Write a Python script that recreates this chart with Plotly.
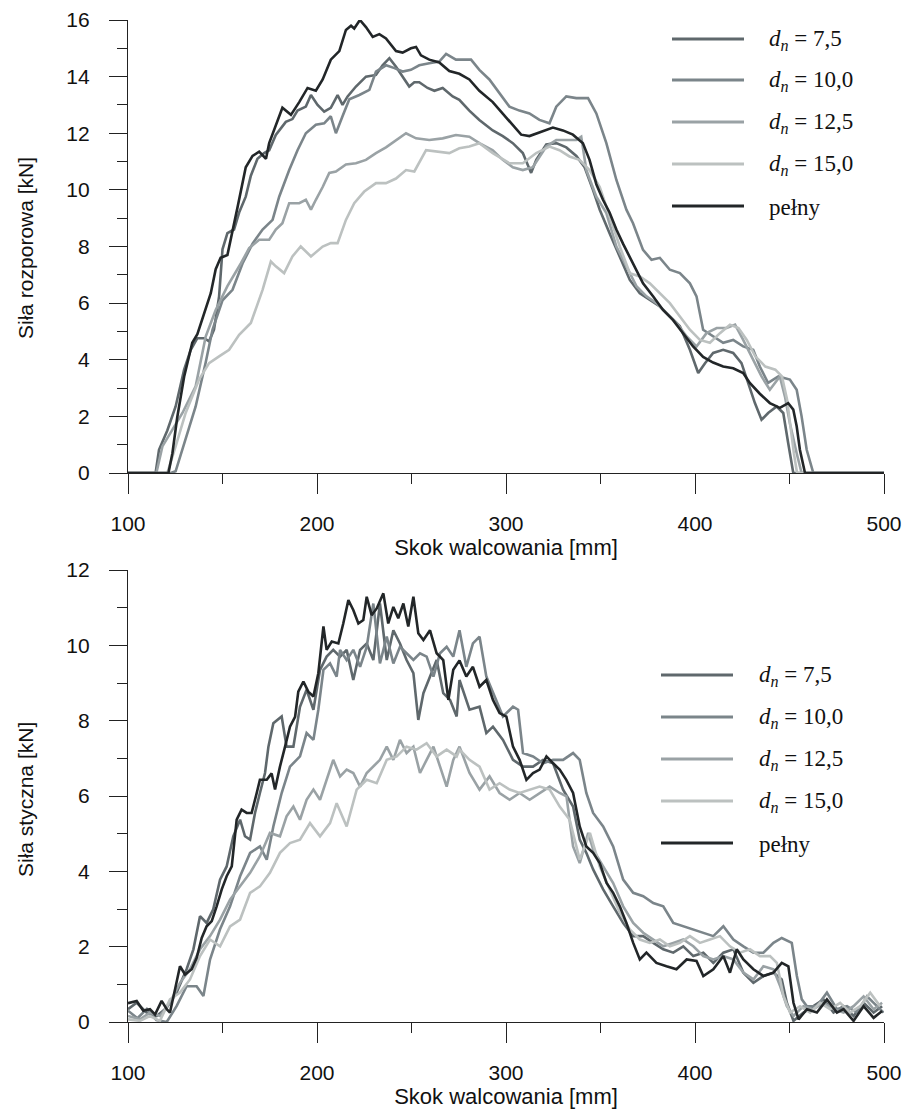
import plotly.graph_objects as go

# ---------------- data: top chart (Siła rozporowa) ----------------
top_pelny_x = [100, 121.4, 123.5, 126, 129.7, 132.3, 134, 136.7, 141, 143.8,
               146.4, 149, 152.6, 155.3, 158, 162.3, 165.9, 169.4, 173, 174.7,
               178.2, 181.7, 186.2, 190.6, 195, 199.4, 203, 207.3, 211.8, 215.3,
               218, 219.7, 222.7, 225.9, 229.5, 233, 236.5, 241.8, 245.3, 249.7,
               252.4, 255, 259.4, 264.7, 270, 275.3, 280.6, 285.9, 293, 298.3,
               303.6, 308, 312.4, 318.6, 324.8, 330.1, 335.4, 340.7, 344.2, 347.8,
               351.3, 354.8, 358.4, 361.9, 367.2, 372.5, 377.8, 383.1, 388.4, 393.7,
               399, 404.3, 409.6, 414.9, 420.2, 425.5, 429, 434.3, 439.6, 444.9,
               449.3, 452, 453.8, 455.5, 458.2, 500]
top_pelny_y = [0, 0, 0.7, 1.94, 3.4, 4.1, 4.6, 4.9, 5.8, 6.35,
               7.2, 7.6, 7.7, 8.5, 9.4, 10.8, 11.2, 11.35, 11.1, 11.65,
               12.3, 12.9, 12.65, 13.1, 13.6, 13.5, 13.9, 14.6, 14.9, 15.65,
               15.8, 15.7, 16.0, 15.75, 15.4, 15.5, 15.35, 14.9, 14.85, 15.0,
               15.05, 14.75, 14.6, 14.5, 14.2, 14.1, 13.9, 13.5, 13.1, 12.7,
               12.3, 11.95, 11.9, 12.06, 12.2, 12.1, 11.95, 11.65, 11.06, 10.2,
               9.65, 9.2, 8.6, 8.1, 7.4, 6.7, 6.24, 5.76, 5.4, 4.94,
               4.47, 4.1, 3.9, 3.76, 3.7, 3.53, 3.18, 2.8, 2.47, 2.3,
               2.47, 2.24, 1.65, 0.82, 0, 0]

top_75_x = [100, 114.6, 116.4, 120.8, 125.2, 129.7, 133.2, 136.7, 140.3, 142.9,
            145.5, 148.2, 150, 152.6, 156.1, 158.8, 162.3, 165, 168.5, 172,
            174.7, 178.2, 183.5, 187, 189.7, 194.1, 196.8, 200.3, 203.8, 207.3,
            210.9, 213.5, 216.2, 220.6, 225.9, 231.2, 234.7, 238.3, 241.8, 245.3,
            248.8, 251.5, 254.1, 258.5, 262.1, 266.5, 271.8, 275.3, 280.6, 285.9,
            293, 298.3, 303.6, 308.9, 313.3, 316, 321.3, 326.6, 331.9, 337.2,
            341.6, 346, 349.6, 354.8, 360.2, 365.5, 370.8, 376.1, 381.4, 386.7,
            392, 397.3, 401.7, 405.3, 409.6, 414.9, 420.2, 424.6, 428.1, 431.7,
            435.2, 438.7, 443.2, 446.7, 449.3, 452, 500]
top_75_y = [0, 0, 0.82, 1.5, 2.35, 3.65, 4.35, 4.76, 4.76, 4.65,
            5.06, 6.24, 7.9, 8.47, 8.6, 9.2, 9.76, 10.5, 11.1, 11.3,
            11.4, 11.94, 12.4, 12.5, 12.8, 12.94, 13.35, 13.0, 12.76, 12.9,
            13.35, 13.0, 13.3, 13.65, 14.0, 14.06, 14.4, 14.65, 14.35, 14.0,
            13.65, 13.8, 13.8, 13.6, 13.5, 13.6, 13.3, 13.18, 12.8, 12.47,
            12.1, 11.9, 11.65, 11.3, 10.6, 11.06, 11.6, 11.65, 11.5, 11.2,
            10.8, 10.0, 9.3, 8.47, 7.65, 6.82, 6.35, 6.1, 5.88, 5.53,
            5.18, 4.35, 3.53, 3.88, 4.24, 4.35, 4.24, 3.88, 3.18, 2.47,
            1.88, 2.12, 2.35, 2.12, 1.06, 0, 0]

top_100_x = [100, 122.6, 125.2, 130.5, 135.8, 141.1, 144.7, 150, 155.3, 160.6,
             165.9, 171.2, 176.5, 180, 185.3, 189.7, 194.1, 199.4, 203.8, 207.3,
             210, 213.5, 217.1, 222.4, 227.7, 231.2, 236.5, 241, 245.3, 249.7,
             254.1, 259.4, 264.7, 268.3, 273.5, 281.5, 285.9, 291.2, 296.5, 301.8,
             307.1, 312.4, 317.7, 323, 326.6, 331.9, 337.2, 343.4, 347.8, 353.1,
             358.4, 363.7, 367.2, 372.5, 377, 381.4, 386.7, 392, 397.3, 400.8,
             404.3, 409.6, 414.9, 420.2, 425.5, 430.8, 434.3, 438.7, 444.1, 450.2,
             453.8, 456.4, 459.1, 462.6, 500]
top_100_y = [0, 0, 0.06, 1.18, 2.35, 3.9, 5.06, 6.1, 6.47, 7.4,
             8.1, 8.6, 8.94, 9.76, 10.7, 11.4, 12.0, 12.3, 12.35, 12.6,
             12.0, 12.6, 13.2, 13.35, 13.53, 14.18, 14.4, 14.3, 14.18, 14.24,
             14.4, 14.47, 14.53, 14.8, 14.6, 14.6, 14.24, 13.9, 13.4, 12.94,
             12.8, 12.7, 12.47, 12.35, 12.94, 13.3, 13.24, 13.24, 12.7, 11.65,
             10.35, 9.3, 8.82, 7.88, 7.53, 7.6, 7.18, 7.06, 6.7, 6.24,
             5.06, 4.82, 4.6, 4.7, 4.47, 4.35, 3.76, 3.18, 3.41, 3.3,
             2.94, 2.0, 0.82, 0, 0]

top_125_x = [100, 115, 118.2, 123.5, 128.8, 135.8, 141.1, 146.4, 152.6, 159.7,
             164.1, 169.4, 174.7, 178.2, 181.7, 185.3, 190.6, 194.1, 196.8, 199.4,
             203, 206.5, 210, 215.3, 220.6, 225.9, 231.2, 236.5, 241.8, 247.1,
             252.4, 259.4, 266.5, 273.5, 280.6, 285.9, 293, 298.3, 303.6, 308.9,
             314.2, 321.3, 326.6, 331.9, 337.2, 339.8, 342.5, 347.8, 353.1, 358.4,
             363.7, 369, 374.3, 379.6, 384.9, 390.2, 395.6, 400.8, 406.1, 411.5,
             416.8, 421.2, 425.5, 430.8, 435.2, 439.6, 444.9, 447.6, 450.2, 453.8,
             456.4, 500]
top_125_y = [0, 0, 0.94, 1.53, 2.12, 3.06, 4.82, 5.76, 6.6, 7.4,
             7.94, 8.24, 8.24, 8.6, 8.82, 9.53, 9.53, 9.65, 9.3, 9.65,
             10.1, 10.6, 10.65, 10.9, 10.94, 11.06, 11.3, 11.5, 11.76, 12.0,
             11.82, 11.76, 11.82, 11.94, 11.88, 11.65, 11.4, 11.06, 10.8, 10.7,
             10.8, 11.53, 11.76, 11.76, 11.76, 11.88, 10.7, 9.76, 9.18, 8.0,
             7.3, 6.6, 6.24, 6.0, 5.65, 5.3, 4.82, 4.47, 4.94, 5.12,
             5.12, 5.24, 4.7, 4.0, 3.41, 2.94, 3.41, 2.7, 1.76, 0.7,
             0, 0]

top_150_x = [100, 120.8, 125.2, 130.5, 137.6, 142.9, 148.2, 153.5, 158.8, 165,
             171.2, 175.6, 178.2, 182.6, 187, 191.4, 196.8, 203, 207.3, 210.9,
             215.3, 219.7, 225, 231.2, 236.5, 241.8, 247.1, 251.5, 257.7, 263.8,
             270, 275.3, 280.6, 285.9, 293, 301.8, 308.9, 316, 323, 328.3,
             333.6, 338.9, 344.2, 349.6, 354.8, 360.2, 365.5, 370.8, 376.1, 381.4,
             386.7, 392, 397.3, 402.6, 407.9, 413.2, 418.5, 423, 427.4, 431.9,
             437.2, 442.5, 446, 448.7, 450.5, 452.3, 454, 500]
top_150_y = [0, 0, 0.94, 2.12, 3.3, 3.88, 4.12, 4.35, 4.88, 5.3,
             6.47, 7.47, 7.3, 7.06, 7.65, 8.0, 7.65, 8.0, 8.12, 8.12,
             8.94, 9.53, 9.94, 10.24, 10.24, 10.4, 10.7, 10.65, 11.4, 11.35,
             11.3, 11.47, 11.53, 11.65, 11.3, 10.94, 10.94, 11.3, 11.53, 11.4,
             11.18, 11.06, 10.7, 10.1, 9.06, 8.0, 7.06, 6.94, 6.7, 6.35,
             6.0, 5.53, 5.06, 4.7, 4.6, 4.94, 5.24, 5.12, 4.7, 4.12,
             3.76, 3.65, 3.41, 2.6, 1.53, 0.7, 0, 0]

# ---------------- data: bottom chart (Siła styczna) ----------------
bot_pelny_x = [100, 104.6, 108.1, 111.6, 114.3, 117.8, 120.5, 122.2, 124.9, 127.5,
               130.2, 133.7, 136.3, 139, 141.6, 144.3, 146.9, 149.6, 152.2, 154.9,
               157.5, 160.1, 162.8, 165.4, 168.1, 169.8, 173.4, 176, 177.8, 180.4,
               183.1, 185.7, 188.4, 190.1, 192.8, 195.4, 198.1, 200.7, 203.4, 205.1,
               207.8, 211.3, 213.9, 216.6, 219.2, 221.9, 224.5, 226.3, 228.9, 231.6,
               235.1, 237.7, 240.4, 243, 245.7, 248.3, 251, 253.6, 256.3, 259.8,
               263.3, 266.8, 269.5, 272.1, 275.4, 279, 282.5, 286, 289.6, 293.1,
               296.6, 300.2, 303.7, 307.2, 310.8, 314.3, 317.8, 321.4, 324.9, 328.4,
               331.9, 335.5, 339, 342.5, 346.1, 349.6, 353.2, 356.7, 360.2, 363.7,
               367.3, 370.8, 374.3, 379.6, 384.9, 390.2, 395.6, 400.8, 404.4, 409.7,
               415, 418.5, 422.1, 425.6, 430.9, 436.2, 441.5, 445.9, 449.4, 452.1,
               454.8, 459.2, 464.5, 469.8, 475.1, 478.6, 483.9, 489.2, 494.5, 499]
bot_pelny_y = [0.5, 0.56, 0.3, 0.34, 0.2, 0.56, 0.34, 0.25, 0.87, 1.48,
               1.26, 1.4, 1.7, 2.23, 2.54, 2.68, 3.07, 3.52, 3.87, 4.13,
               5.37, 5.64, 5.55, 5.55, 6.08, 6.43, 6.43, 6.6, 6.17, 6.78,
               7.31, 7.84, 8.1, 8.77, 9.04, 8.77, 8.64, 9.26, 10.5, 9.88,
               10.1, 10.05, 10.58, 11.2, 10.94, 10.58, 10.67, 11.29, 10.8, 10.98,
               11.38, 10.58, 11.02, 10.72, 11.11, 10.5, 11.29, 10.32, 10.14, 10.4,
               9.79, 9.61, 8.55, 9.35, 9.6, 9.17, 9.43, 8.9, 9.08, 8.55,
               8.2, 8.11, 7.31, 6.96, 6.43, 6.61, 6.7, 7.05, 6.87, 6.7,
               6.43, 6.08, 5.19, 4.66, 4.49, 4.22, 3.69, 3.43, 3.07, 2.63,
               2.1, 1.66, 1.84, 1.57, 1.48, 1.4, 1.66, 1.62, 1.22, 1.4,
               1.75, 1.31, 1.93, 1.66, 1.4, 1.22, 1.31, 1.57, 1.48, 0.51,
               0.07, 0.34, 0.25, 0.6, 0.25, 0.34, 0.03, 0.42, 0.11, 0.29]

bot_75_x = [100, 104.6, 109.9, 115.2, 120.5, 125.7, 131, 134.6, 138.1, 141.6,
            145.1, 148.7, 152.2, 155.7, 159.3, 161.9, 164.6, 167.2, 169.8, 172.5,
            174.3, 176.9, 181.3, 183.9, 187.5, 191, 194.5, 198.1, 201.6, 205.1,
            208.6, 212.2, 215.7, 219.2, 222.8, 226.3, 229.8, 233.3, 236.9, 240.4,
            243.9, 247.4, 251, 253.6, 256.3, 259.8, 263.3, 266.8, 270.4, 273.9,
            275.4, 280.7, 286, 289.6, 293.1, 298.4, 303.7, 309, 314.3, 319.6,
            324.9, 330.2, 335.5, 339, 342.5, 346.1, 351.4, 356.7, 362, 367.3,
            372.6, 377.9, 383.2, 388.5, 393.8, 399.1, 404.4, 409.7, 415, 420.3,
            425.6, 430.9, 436.2, 441.5, 445.9, 448.6, 452.1, 457.4, 462.7, 468,
            473.3, 478.6, 483.9, 489.2, 494.5, 499]
bot_75_y = [0.34, 0.51, 0.25, 0.16, 0.38, 0.78, 1.4, 1.93, 2.81, 2.63,
            2.99, 3.78, 4.13, 4.93, 5.37, 4.93, 4.84, 5.55, 6.08, 6.61,
            7.31, 7.93, 8.11, 7.31, 7.31, 8.37, 8.82, 8.29, 9.35, 9.7,
            9.88, 9.7, 9.88, 9.08, 9.88, 10.05, 9.61, 11.11, 9.61, 10.4,
            10.05, 9.61, 9.26, 8.02, 8.73, 9.17, 9.61, 8.73, 8.55, 8.11,
            9.08, 8.29, 8.37, 7.67, 7.84, 7.49, 6.96, 6.78, 6.78, 6.96,
            6.87, 6.17, 5.72, 4.84, 4.49, 4.05, 3.52, 3.07, 2.63, 2.28,
            2.28, 2.1, 1.93, 1.84, 2.01, 1.75, 1.84, 1.57, 1.84, 1.93,
            1.31, 1.04, 1.22, 1.31, 1.13, 0.51, 0.03, 0.25, 0.42, 0.6,
            0.25, 0.42, 0.16, 0.51, 0.25, 0.42]

bot_100_x = [100, 105, 110, 115, 120.5, 125.7, 131, 136.3, 139.9, 143.4,
             148.7, 154, 159.3, 164.6, 169.8, 173.4, 176.9, 181.3, 185.7, 191,
             194.5, 198.1, 200.7, 203.4, 206.9, 210.4, 212.2, 215.7, 219.2, 222.8,
             226.3, 229.8, 233.3, 236.9, 240.4, 243.9, 247.4, 251, 254.5, 258,
             261.6, 265.1, 268.6, 272.1, 275.4, 279, 282.5, 286, 289.6, 293.1,
             298.4, 303.7, 306.4, 309, 314.3, 319.6, 324.9, 330.2, 335.5, 339,
             342.5, 346.1, 351.4, 356.7, 362, 367.3, 372.6, 377.9, 383.2, 388.5,
             393.8, 399.1, 404.4, 409.7, 415, 420.3, 425.6, 430.9, 436.2, 441.5,
             445.9, 451.2, 453.9, 456.5, 459.2, 464.5, 469.8, 475.1, 480.4, 485.7,
             491, 496.3, 499.8]
bot_100_y = [0.3, 0.1, 0.35, 0.05, 0, 0.42, 0.95, 0.95, 0.69, 1.66,
             2.46, 3.07, 3.87, 4.49, 4.66, 4.31, 5.19, 6.08, 6.78, 7.05,
             7.67, 7.49, 8.29, 9.35, 9.52, 9.17, 9.88, 9.61, 9.88, 9.43,
             9.96, 11.11, 9.52, 10.23, 9.52, 9.96, 9.79, 9.61, 9.79, 9.7,
             9.17, 9.79, 9.96, 9.7, 10.4, 9.43, 10.05, 10.23, 9.17, 8.73,
             8.11, 8.37, 8.29, 7.14, 7.05, 6.87, 6.96, 6.96, 7.14, 6.96,
             6.08, 5.55, 5.19, 4.66, 3.78, 3.43, 3.34, 3.16, 3.07, 2.63,
             2.54, 2.46, 2.37, 2.28, 2.54, 2.19, 2.01, 1.84, 1.84, 2.1,
             2.23, 2.1, 1.22, 0.6, 0.42, 0.42, 0.78, 0.34, 0.42, 0.25,
             0.68, 0.42, 0.25]

bot_125_x = [100, 106.3, 111.6, 116.9, 122.2, 127.5, 132.8, 138.1, 143.4, 148.7,
             154, 159.3, 164.6, 169.8, 175.1, 180.4, 183.9, 187.5, 191, 194.5,
             198.1, 201.6, 205.1, 208.6, 212.2, 215.7, 219.2, 222.8, 226.3, 229.8,
             233.3, 236.9, 240.4, 243.9, 247.4, 251, 254.5, 258, 261.6, 265.1,
             268.6, 272.1, 275.4, 280.7, 286, 291.3, 296.6, 301.9, 307.2, 312.5,
             317.8, 323.1, 328.4, 332, 335.5, 339, 343.5, 346.1, 351.4, 356.7,
             362, 367.3, 372.6, 377.9, 383.2, 388.5, 393.8, 399.1, 404.4, 409.7,
             415, 420.3, 425.6, 430.9, 436.2, 441.5, 445.1, 448.6, 452.1, 457.4,
             462.7, 468, 473.3, 478.6, 483.9, 489.2, 494.5, 499]
bot_125_y = [0.16, 0.07, 0.25, 0.16, 0.51, 1.04, 1.4, 1.93, 2.28, 2.72,
             3.25, 3.6, 3.96, 4.4, 5.02, 4.93, 5.46, 5.72, 5.37, 5.9,
             6.17, 5.9, 6.43, 6.96, 6.52, 6.7, 6.61, 6.25, 6.61, 6.78,
             6.96, 7.31, 6.96, 7.49, 7.14, 7.31, 6.61, 6.96, 7.31, 6.78,
             6.25, 6.96, 7.31, 6.61, 6.17, 6.52, 6.08, 5.9, 6.08, 5.9,
             6.08, 6.25, 6.08, 5.99, 4.66, 4.22, 5.02, 4.58, 4.13, 3.69,
             3.07, 2.63, 2.37, 2.19, 2.01, 2.1, 2.19, 2.01, 1.75, 1.66,
             1.75, 1.66, 1.31, 1.13, 1.48, 1.4, 0.95, 0.42, 0.16, 0.42,
             0.34, 0.51, 0.34, 0.25, 0.42, 0.68, 0.34, 0.51]

bot_150_x = [100, 106.3, 111.6, 116.9, 122.2, 127.5, 132.8, 138.1, 143.4, 148.7,
             154, 159.3, 164.6, 169.8, 175.1, 180.4, 185.7, 191, 196.3, 201.6,
             206.9, 210.4, 215.7, 221, 226.3, 231.6, 236.9, 242.2, 247.4, 252.7,
             258, 263.3, 268.6, 273.9, 275.4, 280.7, 286, 291.3, 296.6, 301.9,
             307.2, 312.5, 317.8, 323.1, 328.4, 333.7, 339, 344.4, 349.6, 354.9,
             360.2, 365.5, 370.8, 376.1, 381.4, 386.7, 392, 397.3, 402.6, 407.9,
             413.2, 418.5, 423.8, 429.1, 434.4, 439.7, 443.3, 446.8, 450.3, 455.6,
             460.9, 466.2, 471.5, 476.8, 482.1, 487.4, 492.7, 498]
bot_150_y = [0.07, 0.03, 0.16, 0.03, 0.6, 0.78, 1.13, 1.75, 2.19, 2.01,
             2.54, 2.72, 3.43, 3.6, 3.96, 4.49, 4.75, 4.84, 5.28, 4.93,
             5.28, 5.81, 5.19, 6.17, 6.43, 6.34, 6.96, 7.05, 7.31, 7.23,
             7.4, 7.05, 7.23, 7.05, 7.23, 6.96, 6.78, 6.17, 6.34, 6.17,
             6.08, 6.17, 6.25, 6.17, 5.72, 5.37, 4.31, 5.02, 4.13, 3.52,
             2.9, 2.46, 2.19, 2.1, 2.19, 2.01, 2.1, 2.28, 2.1, 2.19,
             2.28, 2.01, 1.84, 1.93, 1.75, 1.75, 1.57, 0.69, 0.25, 0.42,
             0.25, 0.51, 0.34, 0.51, 0.25, 0.42, 0.78, 0.42]

series_names = ["<i>d</i><sub><i>n</i></sub> = 7,5", "<i>d</i><sub><i>n</i></sub> = 10,0",
                "<i>d</i><sub><i>n</i></sub> = 12,5", "<i>d</i><sub><i>n</i></sub> = 15,0",
                "pełny"]
series_colors = ["#5f686c", "#7b858a", "#9aa2a5", "#bcc1c0", "#222628"]

top_data = [(top_75_x, top_75_y), (top_100_x, top_100_y), (top_125_x, top_125_y),
            (top_150_x, top_150_y), (top_pelny_x, top_pelny_y)]
bot_data = [(bot_75_x, bot_75_y), (bot_100_x, bot_100_y), (bot_125_x, bot_125_y),
            (bot_150_x, bot_150_y), (bot_pelny_x, bot_pelny_y)]
for xs, ys in top_data + bot_data:
    assert len(xs) == len(ys), (len(xs), len(ys))

# ---------------- figure geometry (page px -> paper) ----------------
# the page body margin is removed by post_script below, so page px == figure px
W, H = 906, 1113
ML, MR, MT = 128, 22, 20
MB = H - 1022
plot_w = W - ML - MR
plot_h = H - MT - MB


def py(page_y):
    return (H - MB - page_y) / plot_h


def px(page_x):
    return (page_x - ML) / plot_w


fig = go.Figure()
for i, (xs, ys) in enumerate(top_data):
    fig.add_trace(go.Scatter(x=xs, y=ys, mode="lines", name=series_names[i],
                             line=dict(color=series_colors[i], width=2.6),
                             xaxis="x", yaxis="y", showlegend=False))
for i, (xs, ys) in enumerate(bot_data):
    fig.add_trace(go.Scatter(x=xs, y=ys, mode="lines", name=series_names[i],
                             line=dict(color=series_colors[i], width=2.6),
                             xaxis="x2", yaxis="y2", showlegend=False))

axis_color = "#222222"
sans = "Liberation Sans, Arial, sans-serif"
serif = "Liberation Serif, Times New Roman, serif"
tick_font = dict(family=sans, size=21, color="#111111")


def xaxis_style(anchor, title):
    return dict(range=[100, 500], domain=[0, 1], anchor=anchor, automargin=False,
                tickmode="linear", tick0=100, dtick=100,
                ticks="outside", ticklen=20, tickwidth=1.4, tickcolor=axis_color,
                minor=dict(ticks="outside", dtick=50, ticklen=10, tickwidth=1.4,
                           tickcolor=axis_color, showgrid=False),
                showline=True, linecolor=axis_color, linewidth=1.4,
                showgrid=False, zeroline=False, tickfont=tick_font,
                ticklabelstandoff=12,
                title=dict(text=title, standoff=3,
                           font=dict(family=sans, size=22, color="#111111")))


def yaxis_style(anchor, rng, domain):
    return dict(range=rng, domain=domain, anchor=anchor, automargin=False,
                tickmode="linear", tick0=0, dtick=2,
                ticks="outside", ticklen=18, tickwidth=1.4, tickcolor=axis_color,
                minor=dict(ticks="outside", dtick=1, ticklen=10, tickwidth=1.4,
                           tickcolor=axis_color, showgrid=False),
                showline=True, linecolor=axis_color, linewidth=1.4,
                showgrid=False, zeroline=False, tickfont=tick_font,
                ticklabelstandoff=15)


# legend drawn as key lines + labels at the reference positions
legend_top_rows = [39, 80, 122, 164, 206]
legend_bot_rows = [675, 717, 759, 801, 843]
shapes, annotations = [], []
for rows, x0, x1, xt in [(legend_top_rows, 672, 744, 767),
                         (legend_bot_rows, 661, 733, 757)]:
    for i, yy in enumerate(rows):
        shapes.append(dict(type="line", xref="paper", yref="paper",
                           x0=px(x0), x1=px(x1), y0=py(yy), y1=py(yy),
                           line=dict(color=series_colors[i], width=3.2)))
        annotations.append(dict(text=series_names[i], xref="paper", yref="paper",
                                x=px(xt), y=py(yy + 1), xanchor="left",
                                yanchor="middle", showarrow=False,
                                font=dict(family=serif, size=23, color="#111111")))

annotations += [
    dict(text="Siła rozporowa [kN]", xref="paper", yref="paper",
         x=px(25), y=py(248), textangle=-90, showarrow=False,
         xanchor="center", yanchor="middle",
         font=dict(family=sans, size=21, color="#111111")),
    dict(text="Siła styczna [kN]", xref="paper", yref="paper",
         x=px(25), y=py(800), textangle=-90, showarrow=False,
         xanchor="center", yanchor="middle",
         font=dict(family=sans, size=21, color="#111111")),
]

fig.update_layout(
    width=W, height=H,
    margin=dict(l=ML, r=MR, t=MT, b=MB, autoexpand=False),
    paper_bgcolor="white", plot_bgcolor="white",
    showlegend=False,
    xaxis=xaxis_style("y", "Skok walcowania [mm]"),
    yaxis=yaxis_style("x", [0, 16], [py(473), 1]),
    xaxis2=xaxis_style("y2", "Skok walcowania [mm]"),
    yaxis2=yaxis_style("x2", [0, 12], [0, py(570)]),
    shapes=shapes,
    annotations=annotations,
)

fig.write_html(
    "out.html",
    config={"displayModeBar": False},
    post_script=("document.body.style.margin='0';"
                 "document.documentElement.style.overflow='hidden';"
                 "document.body.style.overflow='hidden';"),
)
